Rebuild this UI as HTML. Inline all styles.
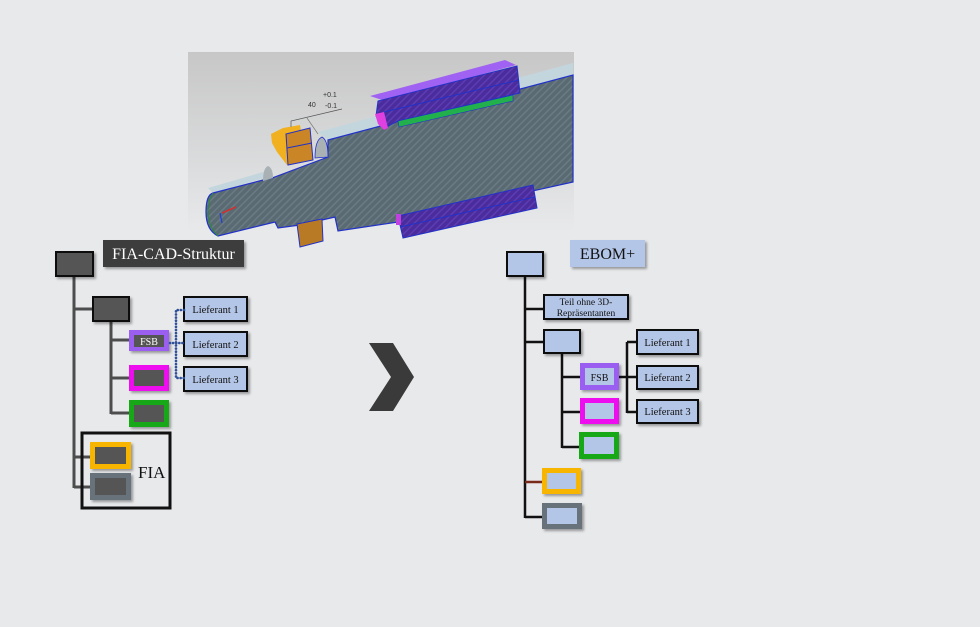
<!DOCTYPE html>
<html><head><meta charset="utf-8"><style>
html,body{margin:0;padding:0;background:#e8e9eb;}
svg{display:block;}
text{font-family:"Liberation Serif",serif;}
</style></head><body>
<svg width="980" height="627" viewBox="0 0 980 627" xmlns="http://www.w3.org/2000/svg">
<defs>
<linearGradient id="bg" x1="0" y1="0" x2="0" y2="1">
<stop offset="0" stop-color="#c7c7c7"/><stop offset="0.6" stop-color="#dadbdc"/><stop offset="1" stop-color="#e8e9eb"/>
</linearGradient>
<pattern id="hatch" width="5" height="5" patternUnits="userSpaceOnUse" patternTransform="rotate(45)">
<rect width="5" height="5" fill="#5a6a72"/><rect width="1.5" height="5" fill="#6b7b83"/>
</pattern>
<pattern id="phatch" width="5" height="5" patternUnits="userSpaceOnUse" patternTransform="rotate(45)">
<rect width="5" height="5" fill="#4a2c9c"/><rect width="1.5" height="5" fill="#5d3cb4"/>
</pattern>
<filter id="sh" x="-10%" y="-10%" width="130%" height="140%"><feDropShadow dx="2" dy="2" stdDeviation="1.2" flood-color="#000" flood-opacity="0.35"/></filter>
</defs>

<!-- CAD image -->
<rect x="188" y="52" width="386" height="180" fill="url(#bg)"/>
<polygon points="318,132 573,63 573,75 328,140" fill="#c3d6de"/>
<polygon points="208,188 263,172 268,177 213,193" fill="#c3d6de"/>
<path d="M213,193 L267,179 L272,178 L328,157 L328,140 L573,75 L573,182 L420,216 L398,222 L338,231 L335,217 L322,220 L300,225 L278,228 L275,222 L218,236 Q206,230 206,212 Q206,195 213,193 Z" fill="url(#hatch)" stroke="#2232c8" stroke-width="1.2"/>
<path d="M213,193 Q208,200 208,212 Q208,226 218,236" fill="none" stroke="#2a8a3a" stroke-width="1"/>
<path d="M315,158 Q315,140 322,137 Q328,140 328,157 Z" fill="#a9b1b5" stroke="#2232c8" stroke-width="0.8"/>
<path d="M263,181 Q263,168 268,166 Q273,168 273,178 Z" fill="#a9b1b5"/>
<polygon points="271,134 283,128 300,125 306,160 287,165 277,152 272,143" fill="#f0b020"/>
<polygon points="286,134 310,128 313,160 288,165" fill="#c98526" stroke="#2232c8" stroke-width="1"/>
<line x1="287" y1="148" x2="312" y2="143" stroke="#2232c8" stroke-width="1"/>
<polygon points="297,224 322,219 323,241 300,247" fill="#b87a25" stroke="#2232c8" stroke-width="1"/>
<polygon points="370,96 505,60 516,65 385,101" fill="#a062f2"/>
<polygon points="378,101 517,66 520,93 398,121 386,127 376,116" fill="url(#phatch)" stroke="#2232c8" stroke-width="1"/>
<line x1="384" y1="112" x2="519" y2="80" stroke="#2232c8" stroke-width="1"/>
<polygon points="375,114 384,112 388,128 384,130 378,124" fill="#e040e0"/>
<polygon points="398,121 513,95 513,101 399,127" fill="#22b04c" stroke="#2232c8" stroke-width="0.6"/>
<polygon points="398,216 533,185 537,208 403,238" fill="url(#phatch)" stroke="#2232c8" stroke-width="1"/>
<line x1="400" y1="227" x2="535" y2="197" stroke="#2232c8" stroke-width="1"/>
<rect x="396" y="214" width="5" height="11" fill="#c040e0"/>
<line x1="222" y1="213" x2="236" y2="207" stroke="#d03030" stroke-width="1.5"/>
<line x1="220" y1="213" x2="222" y2="223" stroke="#2040e0" stroke-width="1.2"/>
<polyline points="291,127 291,121 342,109" fill="none" stroke="#555" stroke-width="0.7"/>
<line x1="307" y1="118" x2="318" y2="134" stroke="#777" stroke-width="0.7"/>
<text x="308" y="107" font-size="7" fill="#333" style="font-family:'Liberation Sans',sans-serif">40</text>
<text x="323" y="97" font-size="7" fill="#333" style="font-family:'Liberation Sans',sans-serif">+0.1</text>
<text x="325" y="108" font-size="7" fill="#333" style="font-family:'Liberation Sans',sans-serif">-0.1</text>

<!-- LEFT TREE -->
<g stroke="#4d4d4d" stroke-width="3" fill="none">
<line x1="74" y1="276" x2="74" y2="488"/>
<line x1="74" y1="309" x2="93" y2="309"/>
<line x1="111" y1="321" x2="111" y2="414"/>
<line x1="111" y1="340" x2="129" y2="340"/>
<line x1="111" y1="378" x2="129" y2="378"/>
<line x1="111" y1="413" x2="129" y2="413"/>
<line x1="74" y1="457" x2="90" y2="457"/>
<line x1="74" y1="487" x2="90" y2="487"/>
</g>
<g filter="url(#sh)">
<rect x="56" y="252" width="37" height="24" fill="#555" stroke="#111" stroke-width="2"/>
<rect x="103" y="240" width="141" height="27" fill="#3c3c3c"/>
<rect x="93" y="297" width="36" height="24" fill="#555" stroke="#111" stroke-width="2"/>
<rect x="129" y="330" width="40" height="21" fill="#9a5ff0"/>
<rect x="129" y="365" width="40" height="26" fill="#ee11ee"/>
<rect x="129" y="400" width="40" height="27" fill="#16a816"/>
<rect x="90" y="442" width="41" height="27" fill="#f7b500"/>
<rect x="90" y="473" width="41" height="27" fill="#68727a"/>
<rect x="184" y="297" width="63" height="24" fill="#b4c6e7" stroke="#111" stroke-width="2"/>
<rect x="184" y="332" width="63" height="24" fill="#b4c6e7" stroke="#111" stroke-width="2"/>
<rect x="184" y="367" width="63" height="24" fill="#b4c6e7" stroke="#111" stroke-width="2"/>
</g>
<rect x="134" y="335" width="30" height="12" fill="#555"/>
<rect x="134" y="370" width="30" height="16" fill="#555"/>
<rect x="134" y="405" width="30" height="17" fill="#555"/>
<rect x="95" y="447" width="31" height="17" fill="#555"/>
<rect x="95" y="478" width="31" height="17" fill="#555"/>
<rect x="82" y="433" width="88" height="75" fill="none" stroke="#111" stroke-width="3"/>
<text x="173.5" y="259" font-size="16" fill="#fff" text-anchor="middle">FIA-CAD-Struktur</text>
<text x="149" y="345" font-size="10" fill="#fff" text-anchor="middle">FSB</text>
<text x="138" y="478" font-size="17" fill="#111">FIA</text>
<text x="215.5" y="313" font-size="10.5" fill="#111" text-anchor="middle">Lieferant 1</text>
<text x="215.5" y="348" font-size="10.5" fill="#111" text-anchor="middle">Lieferant 2</text>
<text x="215.5" y="383" font-size="10.5" fill="#111" text-anchor="middle">Lieferant 3</text>
<g stroke="#2f4f9a" stroke-width="2.6" stroke-dasharray="0.1 3" stroke-linecap="round" fill="none">
<path d="M184 310 H176 V378 H184"/>
<path d="M170 343 H184"/>
</g>

<!-- ARROW -->
<polygon points="369,343 393,343 414,377 393,411 369,411 391,377" fill="#3a3a3a"/>

<!-- RIGHT TREE -->
<g stroke="#111" stroke-width="2.5" fill="none">
<line x1="525" y1="276" x2="525" y2="518"/>
<line x1="525" y1="309" x2="544" y2="309"/>
<line x1="525" y1="342" x2="544" y2="342"/>
<line x1="525" y1="517" x2="542" y2="517"/>
<line x1="562" y1="353" x2="562" y2="448"/>
<line x1="562" y1="377" x2="580" y2="377"/>
<line x1="562" y1="412" x2="580" y2="412"/>
<line x1="562" y1="447" x2="579" y2="447"/>
<line x1="619" y1="377" x2="637" y2="377"/>
<line x1="627" y1="342" x2="627" y2="413"/>
<line x1="627" y1="342" x2="637" y2="342"/>
<line x1="627" y1="412" x2="637" y2="412"/>
</g>
<line x1="525" y1="482" x2="542" y2="482" stroke="#7a2a1a" stroke-width="2.5"/>
<g filter="url(#sh)">
<rect x="507" y="252" width="36" height="24" fill="#b4c6e7" stroke="#111" stroke-width="2"/>
<rect x="570" y="240" width="75" height="27" fill="#b4c6e7"/>
<rect x="544" y="295" width="84" height="24" fill="#b4c6e7" stroke="#111" stroke-width="2"/>
<rect x="544" y="330" width="36" height="23" fill="#b4c6e7" stroke="#111" stroke-width="2"/>
<rect x="580" y="363" width="39" height="27" fill="#9a5ff0"/>
<rect x="580" y="398" width="39" height="26" fill="#ee11ee"/>
<rect x="579" y="432" width="40" height="27" fill="#16a816"/>
<rect x="542" y="468" width="39" height="26" fill="#f7b500"/>
<rect x="542" y="503" width="40" height="26" fill="#68727a"/>
<rect x="637" y="330" width="61" height="24" fill="#b4c6e7" stroke="#111" stroke-width="2"/>
<rect x="637" y="366" width="61" height="23" fill="#b4c6e7" stroke="#111" stroke-width="2"/>
<rect x="637" y="400" width="61" height="23" fill="#b4c6e7" stroke="#111" stroke-width="2"/>
</g>
<rect x="585" y="368" width="29" height="17" fill="#b4c6e7"/>
<rect x="585" y="403" width="29" height="16" fill="#b4c6e7"/>
<rect x="584" y="437" width="30" height="17" fill="#b4c6e7"/>
<rect x="547" y="473" width="29" height="16" fill="#b4c6e7"/>
<rect x="547" y="508" width="30" height="16" fill="#b4c6e7"/>
<text x="607.5" y="259" font-size="16" fill="#111" text-anchor="middle">EBOM+</text>
<text x="586" y="305" font-size="9.5" fill="#111" text-anchor="middle">Teil ohne 3D-</text>
<text x="586" y="316" font-size="9.5" fill="#111" text-anchor="middle">Repräsentanten</text>
<text x="599.5" y="381" font-size="10" fill="#111" text-anchor="middle">FSB</text>
<text x="667.5" y="346" font-size="10.5" fill="#111" text-anchor="middle">Lieferant 1</text>
<text x="667.5" y="381" font-size="10.5" fill="#111" text-anchor="middle">Lieferant 2</text>
<text x="667.5" y="415" font-size="10.5" fill="#111" text-anchor="middle">Lieferant 3</text>
</svg>
</body></html>
